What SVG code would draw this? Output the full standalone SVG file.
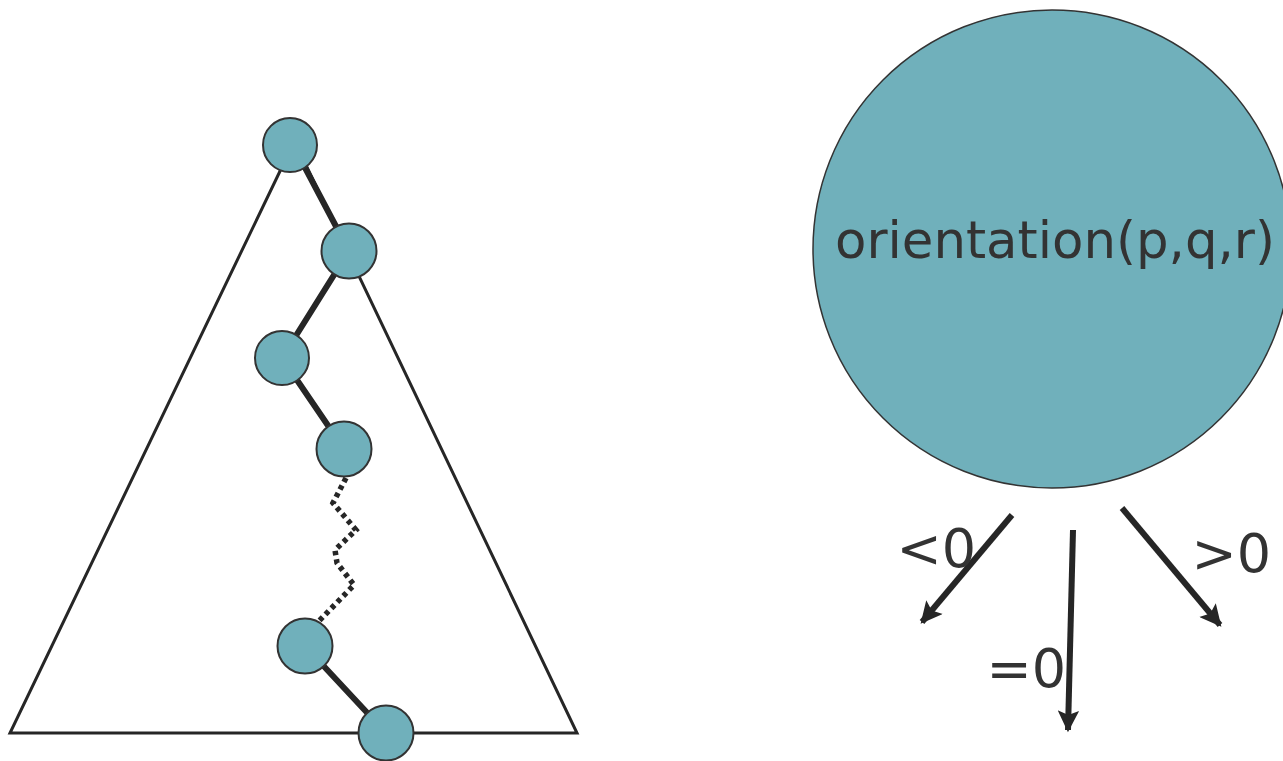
<svg xmlns="http://www.w3.org/2000/svg" width="1283" height="761" viewBox="0 0 1283 761">
  <defs>
    <style>
      .node { fill: #70b0bb; stroke: #333333; stroke-width: 2; }
      .edge { stroke: #262626; stroke-width: 6; stroke-linecap: round; fill: none; }
      .tri { stroke: #262626; stroke-width: 3; fill: none; stroke-linejoin: miter; }
      .arrow { stroke: #262626; stroke-width: 6; fill: none; }
      .lbl { font-family: "DejaVu Sans", Verdana, sans-serif; fill: #333333; }
    </style>
    <marker id="ah" viewBox="0 0 10 10" refX="9" refY="5" markerWidth="4" markerHeight="3.6" markerUnits="strokeWidth" orient="auto">
      <path d="M0,0 L10,5 L0,10 L2,5 Z" fill="#262626"/>
    </marker>
  </defs>
  <rect width="1283" height="761" fill="#ffffff"/>

  <g id="triangle">
    <path class="tri" d="M294.5,141 L10,733 L577,733 Z"/>
  </g>

  <g id="connectors">
    <line class="edge" x1="292" y1="143" x2="349" y2="251" stroke-width="8"/>
    <line class="edge" x1="349" y1="251" x2="282" y2="358"/>
    <line class="edge" x1="282" y1="358" x2="344" y2="449"/>
    <polyline points="346,478 333,503 356,530 335,550 337,563 354,585 318,622" fill="none" stroke="#262626" stroke-width="5.5" stroke-dasharray="4.5 4"/>
    <line class="edge" x1="305" y1="646" x2="386" y2="733"/>
    <line class="arrow" x1="1012" y1="515" x2="922" y2="622" marker-end="url(#ah)"/>
    <line class="arrow" x1="1073" y1="530" x2="1068" y2="730" marker-end="url(#ah)"/>
    <line class="arrow" x1="1122" y1="508" x2="1220" y2="625" marker-end="url(#ah)"/>
  </g>

  <g id="n1"><circle class="node" cx="290" cy="145" r="27"/></g>
  <g id="n2"><circle class="node" cx="349" cy="251" r="27.5"/></g>
  <g id="n3"><circle class="node" cx="282" cy="358" r="27"/></g>
  <g id="n4"><circle class="node" cx="344" cy="449" r="27.5"/></g>
  <g id="n5"><circle class="node" cx="305" cy="646" r="27.5"/></g>
  <g id="n6"><circle class="node" cx="386" cy="733" r="27.5"/></g>

  <g id="orientation">
    <circle cx="1052" cy="249" r="239" fill="#70b0bb" stroke="#333333" stroke-width="1.5"/>
    <text class="lbl" x="835" y="258" font-size="51" textLength="440" lengthAdjust="spacingAndGlyphs">orientation(p,q,r)</text>
  </g>

  <g id="labels">
    <text class="lbl" x="896.5" y="567" font-size="54">&lt;0</text>
    <text class="lbl" x="986.5" y="687" font-size="54">=0</text>
    <text class="lbl" x="1191.5" y="572" font-size="54">&gt;0</text>
  </g>
</svg>
